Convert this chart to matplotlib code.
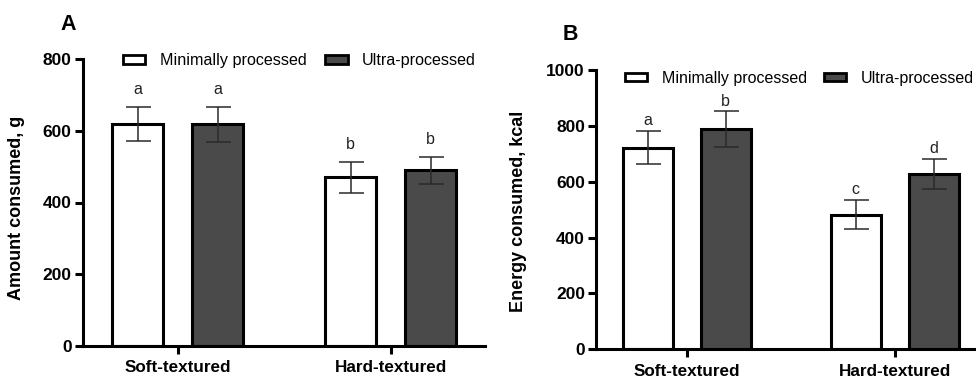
import matplotlib
matplotlib.use("Agg")
import matplotlib.pyplot as plt
from matplotlib.patches import Patch
import numpy as np

plt.rcParams['font.family'] = ['Liberation Sans', 'DejaVu Sans']

groups = ["Soft-textured", "Hard-textured"]
series = ["Minimally processed", "Ultra-processed"]

# Panel A: Amount consumed, g
a_mini = [620, 470]
a_mini_err = [48, 43]
a_ultra = [618, 490]
a_ultra_err = [49, 38]
a_mini_sig = ["a", "b"]
a_ultra_sig = ["a", "b"]

# Panel B: Energy consumed, kcal
b_mini = [722, 482]
b_mini_err = [59, 52]
b_ultra = [788, 628]
b_ultra_err = [64, 53]
b_mini_sig = ["a", "c"]
b_ultra_sig = ["b", "d"]

W, H = 976, 376
fig = plt.figure(figsize=(W / 100, H / 100), dpi=100)

DARK = "#4a4a4a"
ERRC = "#2a2a2a"


def px_axes(l, r, b, t):
    return fig.add_axes([l / W, 1 - b / H, (r - l) / W, (b - t) / H])


def panel(ax, mini, mini_err, ultra, ultra_err, msig, usig, ymax, yticks, ylabel,
          xlim, off_pts, legend_xy, leg_fs, colsp):
    x = np.arange(len(groups))
    off, bw = 0.188, 0.24
    ax.bar(x - off, mini, bw, color="white", edgecolor="black", linewidth=2.2, zorder=2)
    ax.bar(x + off, ultra, bw, color=DARK, edgecolor="black", linewidth=2.2, zorder=2)
    ax.errorbar(x - off, mini, yerr=mini_err, fmt="none", ecolor=ERRC, elinewidth=1.1,
                capsize=9, capthick=1.1, zorder=3)
    ax.errorbar(x + off, ultra, yerr=ultra_err, fmt="none", ecolor=ERRC, elinewidth=1.1,
                capsize=9, capthick=1.1, zorder=3)
    for xi, v, e, s in zip(x - off, mini, mini_err, msig):
        ax.annotate(s, (xi, v + e), xytext=(0, off_pts), textcoords="offset points",
                    ha="center", va="bottom", fontsize=11.5, color="#222222")
    for xi, v, e, s in zip(x + off, ultra, ultra_err, usig):
        ax.annotate(s, (xi, v + e), xytext=(0, off_pts), textcoords="offset points",
                    ha="center", va="bottom", fontsize=11.5, color="#222222")
    ax.set_ylim(0, ymax)
    ax.set_xlim(*xlim)
    ax.set_yticks(yticks)
    ax.set_xticks(x)
    ax.set_xticklabels(groups, fontweight="bold", fontsize=12.3)
    for lab in ax.get_yticklabels():
        lab.set_fontweight("bold")
        lab.set_fontsize(12.5)
    ax.set_ylabel(ylabel, fontweight="bold", fontsize=13)
    for s in ["top", "right"]:
        ax.spines[s].set_visible(False)
    for s in ["left", "bottom"]:
        ax.spines[s].set_linewidth(2.2)
    ax.tick_params(axis="y", length=5.5, width=2.2, pad=2.5)
    ax.tick_params(axis="x", length=5.5, width=2.2, pad=5)
    handles = [Patch(facecolor="white", edgecolor="black", linewidth=2.0),
               Patch(facecolor=DARK, edgecolor="black", linewidth=2.0)]
    fig.legend(handles, series, loc="center left",
               bbox_to_anchor=(legend_xy[0] / W, 1 - legend_xy[1] / H),
               ncol=2, frameon=False, fontsize=leg_fs, borderpad=0, borderaxespad=0,
               handlelength=1.4, handleheight=0.45, handletextpad=0.9, columnspacing=colsp)


axA = px_axes(82.7, 485, 345.7, 59.3)
panel(axA, a_mini, a_mini_err, a_ultra, a_ultra_err, a_mini_sig, a_ultra_sig,
      800, [0, 200, 400, 600, 800], "Amount consumed, g", (-0.447, 1.443), 7, (122.7, 61),
      11.6, 1.15)
axA.yaxis.set_label_coords(-0.1434, 0.4825)

axB = px_axes(596, 976, 349.3, 70)
panel(axB, b_mini, b_mini_err, b_ultra, b_ultra_err, b_mini_sig, b_ultra_sig,
      1000, [0, 200, 400, 600, 800, 1000], "Energy consumed, kcal", (-0.436, 1.391), 2,
      (625, 78), 11.5, 1.08)
axB.yaxis.set_label_coords(-0.182, 0.495)

fig.text(68 / W, 1 - 25 / H, "A", fontweight="bold", fontsize=15.5, ha="center", va="center")
fig.text(570 / W, 1 - 35 / H, "B", fontweight="bold", fontsize=15.5, ha="center", va="center")

fig.savefig("out.png", dpi=100)
